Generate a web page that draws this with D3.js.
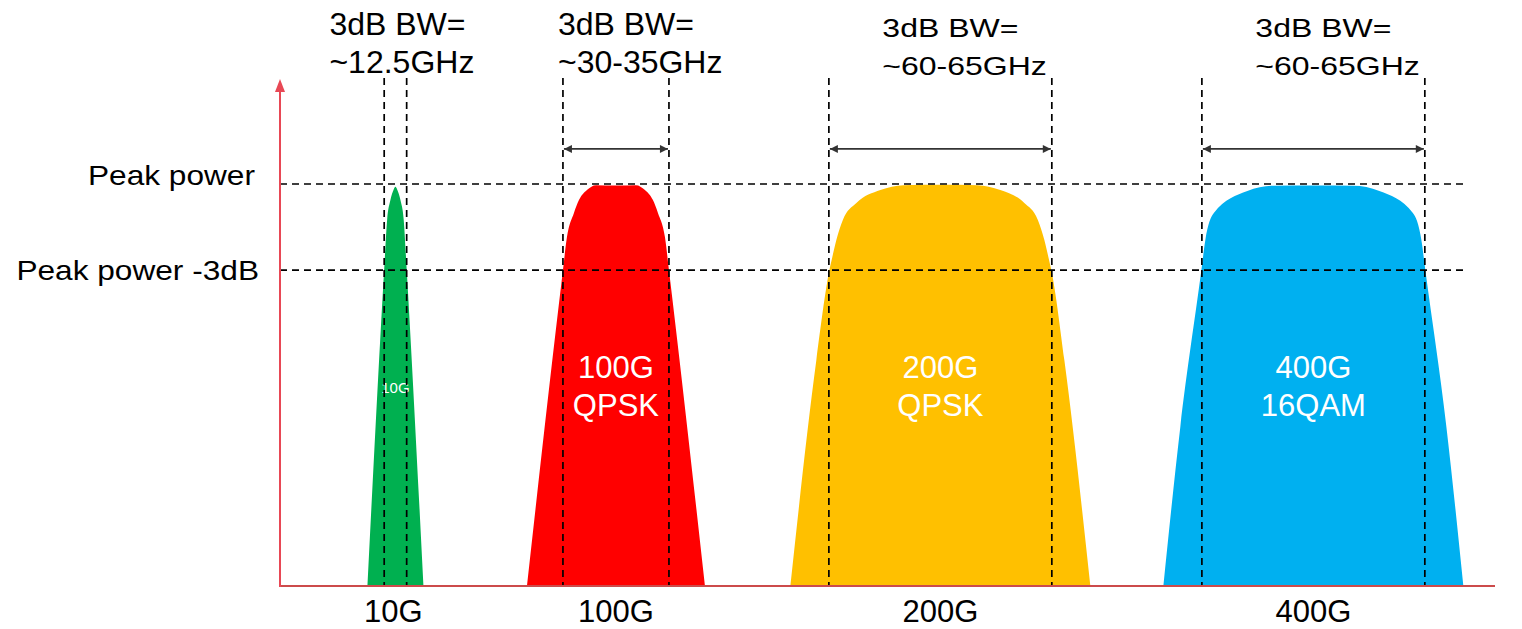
<!DOCTYPE html>
<html>
<head>
<meta charset="utf-8">
<script src="https://cdn.jsdelivr.net/npm/d3@7"></script>
<style>
  body { margin: 0; background: #fff; }
  svg { display: block; font-family: "Liberation Sans", Arial, sans-serif; }
</style>
</head>
<body>
<div id="chart"></div>
<script>
// optical channel spectra: 10G / 100G / 200G / 400G

const channels = ["10G", "100G", "200G", "400G"];
const innerLabels = [["10G"], ["100G", "QPSK"], ["200G", "QPSK"], ["400G", "16QAM"]];
const bwLabels = ["~12.5GHz", "~30-35GHz", "~60-65GHz", "~60-65GHz"];
const colors = ["#00b050", "#ff0000", "#ffc000", "#00b0f0"];
const centers = [38.0, 110.6, 217.4, 340.2];   // relative frequency
const bw3dB = [7.4, 34.9, 73.4, 73.4];          // width between -3dB points
const levels = [0, -3];                          // dB
const levelLabels = ["Peak power", "Peak power -3dB"];

// half profiles [offset, dB], mirrored around each center
const profiles = [
  [[0, -0.1], [0.6, -0.2], [1.65, -0.56], [2.73, -1.25], [3.72, -3], [9.22, -14]],
  [[0, -0.05], [6.58, -0.04], [9.55, -0.21], [12.18, -0.56], [13.83, -1.01], [16.13, -1.85], [17.45, -3], [29.3, -14]],
  [[0, -0.03], [12.18, -0.04], [19.75, -0.21], [27.65, -0.66], [32.1, -1.25], [34.24, -1.95], [35.56, -2.54], [36.54, -3], [40.82, -6.13], [49.38, -14]],
  [[0, -0.05], [13.17, -0.06], [21.73, -0.24], [32.76, -1.01], [35.56, -1.95], [36.87, -3], [43.79, -8.45], [49.38, -14]]
];

const width = 1522, height = 629;
const x = d3.scaleLinear().domain([0, 400]).range([280, 1495]);
const y = d3.scaleLinear().domain([-14, 0]).range([586, 184]);

const svg = d3.select("#chart").append("svg")
  .attr("width", width)
  .attr("height", height);

const defs = svg.append("defs");
defs.append("marker")
  .attr("id", "ah")
  .attr("viewBox", "0 0 10 10")
  .attr("refX", 10).attr("refY", 5)
  .attr("markerWidth", 10).attr("markerHeight", 8)
  .attr("markerUnits", "userSpaceOnUse")
  .attr("orient", "auto-start-reverse")
  .append("path").attr("d", "M0,0 L10,5 L0,10 z").attr("fill", "#333");

// spectra
const area = d3.area()
  .curve(d3.curveMonotoneX)
  .x(d => x(d[0]))
  .y0(y(-14))
  .y1(d => y(d[1]));

const shapes = profiles.map((p, i) => {
  const right = p.map(d => [centers[i] + d[0], d[1]]);
  const left = p.slice(1).map(d => [centers[i] - d[0], d[1]]).reverse();
  return left.concat(right);
});

svg.append("g").selectAll("path")
  .data(shapes)
  .join("path")
  .attr("fill", (d, i) => colors[i])
  .attr("d", area);

// white labels inside
const inner = svg.append("g").attr("fill", "#fff").attr("text-anchor", "middle");
innerLabels.forEach((lines, i) => {
  const t = inner.append("text")
    .attr("font-size", i === 0 ? 15 : 31);
  t.selectAll("tspan")
    .data(lines)
    .join("tspan")
    .attr("x", x(centers[i]))
    .attr("y", (d, j) => i === 0 ? 393 : 378 + j * 38)
    .text(d => d);
});

// dashed level lines
svg.append("g").selectAll("line")
  .data(levels)
  .join("line")
  .attr("x1", x(0)).attr("x2", 1465)
  .attr("y1", d => y(d)).attr("y2", d => y(d))
  .attr("stroke", "#000")
  .attr("stroke-width", 1.7)
  .attr("stroke-dasharray", "7,5");

// dashed -3dB verticals
const edges = [];
centers.forEach((c, i) => {
  edges.push(c - bw3dB[i] / 2, c + bw3dB[i] / 2);
});
svg.append("g").selectAll("line")
  .data(edges)
  .join("line")
  .attr("x1", d => x(d)).attr("x2", d => x(d))
  .attr("y1", 78).attr("y2", y(-14))
  .attr("stroke", "#000")
  .attr("stroke-width", 1.7)
  .attr("stroke-dasharray", "7,5");

// bandwidth arrows (not for 10G)
svg.append("g").selectAll("line")
  .data(centers.slice(1).map((c, i) => [c, bw3dB[i + 1]]))
  .join("line")
  .attr("x1", d => x(d[0] - d[1] / 2) + 1)
  .attr("x2", d => x(d[0] + d[1] / 2) - 1)
  .attr("y1", y(1.22)).attr("y2", y(1.22))
  .attr("stroke", "#333")
  .attr("stroke-width", 1.7)
  .attr("marker-start", "url(#ah)")
  .attr("marker-end", "url(#ah)");

// axes
svg.append("line")
  .attr("x1", x(0)).attr("x2", x(400))
  .attr("y1", y(-14)).attr("y2", y(-14))
  .attr("stroke", "#cc4b4b").attr("stroke-width", 2);
svg.append("line")
  .attr("x1", x(0)).attr("x2", x(0))
  .attr("y1", y(-14) + 1).attr("y2", 90)
  .attr("stroke", "#e84855").attr("stroke-width", 2);
svg.append("path")
  .attr("d", `M${x(0) - 5},92 L${x(0)},79 L${x(0) + 5},92 z`)
  .attr("fill", "#e84855");

// level labels on the left
svg.append("g").selectAll("text")
  .data(levelLabels)
  .join("text")
  .attr("text-anchor", "end")
  .attr("font-size", 28)
  .attr("fill", "#000")
  .attr("transform", (d, i) => `translate(${i ? 259 : 255},${y(levels[i]) + (i ? 10 : 1)}) scale(1.13,1)`)
  .text(d => d);

// channel names below the axis
svg.append("g").selectAll("text")
  .data(channels)
  .join("text")
  .attr("text-anchor", "middle")
  .attr("font-size", 31)
  .attr("x", (d, i) => x(centers[i]) - (i === 0 ? 2 : 0))
  .attr("y", 622)
  .text(d => d);

// 3dB bandwidth labels on top
const topLabels = svg.append("g").attr("font-size", 32).attr("fill", "#000");
bwLabels.forEach((lab, i) => {
  const squash = i >= 2 ? 0.82 : 1;
  const base = i >= 2 ? 37 : 35;
  const t = topLabels.append("text")
    .attr("transform", `translate(${x(centers[i]) - (i === 0 ? 66 : 58)},${base}) scale(1,${squash})`);
  t.append("tspan").attr("x", 0).attr("y", 0).text("3dB BW=");
  t.append("tspan").attr("x", 0).attr("y", 38 / squash).text(lab);
});
</script>
</body>
</html>
